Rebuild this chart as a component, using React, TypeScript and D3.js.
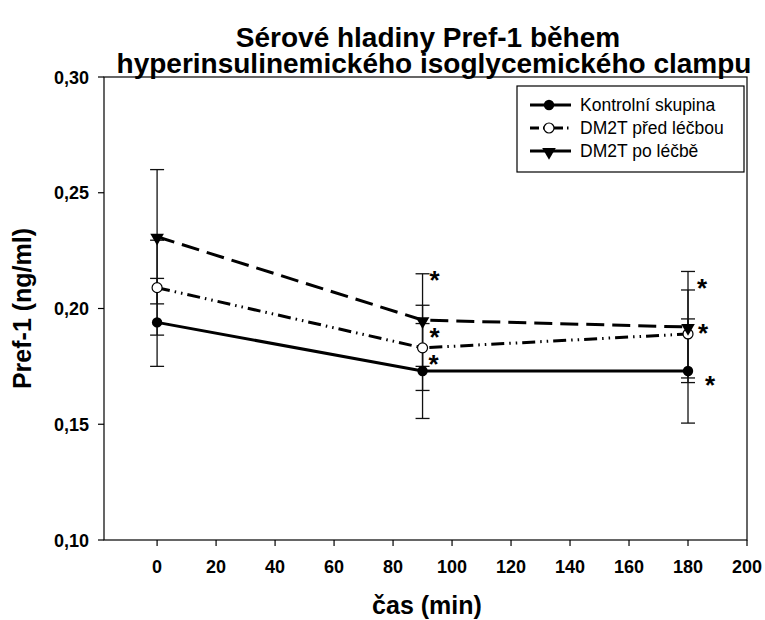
import React from 'react';
import * as d3 from 'd3';

const times = [0, 90, 180];
const kontrolni = [0.194, 0.173, 0.173];
const kontrolniErr = [0.019, 0.0205, 0.0225];
const pred = [0.209, 0.183, 0.189];
const predErr = [0.0205, 0.0184, 0.019];
const po = [0.231, 0.195, 0.192];
const poErr = [0.029, 0.02, 0.024];
const xTicks = [0, 20, 40, 60, 80, 100, 120, 140, 160, 180, 200];
const yTicks = [0.1, 0.15, 0.2, 0.25, 0.3];
// hvezdicky: [cas, hodnota kde stoji, posun v ose x]
const stars = [
  [90, 0.2155, 12], [90, 0.1905, 12], [90, 0.179, 11],
  [180, 0.212, 14], [180, 0.1925, 15], [180, 0.17, 22],
];

const W = 765, H = 620;
const left = 104, right = 747, top = 77, bottom = 540;

export default function App() {
  const x = d3.scaleLinear().domain([-18, 200]).range([left, right]);
  const y = d3.scaleLinear().domain([0.1, 0.3]).range([bottom, top]);
  const fmt = (v: number) => d3.format('.2f')(v).replace('.', ',');

  const series = [
    { name: 'Kontrolní skupina', vals: kontrolni, err: kontrolniErr, dash: null, marker: 'fill' },
    { name: 'DM2T před léčbou', vals: pred, err: predErr, dash: '13,5,1.5,5,1.5,5', marker: 'open' },
    { name: 'DM2T po léčbě', vals: po, err: poErr, dash: '18,8', marker: 'tri' },
  ];

  const line = d3.line<number>().x((_, i) => x(times[i])).y(d => y(d));
  const tri = d3.symbol().type(d3.symbolTriangle).size(80)();

  const marker = (kind: string, cx: number, cy: number, key: string) => {
    if (kind === 'fill') return <circle key={key} cx={cx} cy={cy} r={5.2} fill="#000" />;
    if (kind === 'open') return <circle key={key} cx={cx} cy={cy} r={5} fill="#fff" stroke="#000" strokeWidth={1.2} />;
    return <path key={key} d={tri as string} transform={`translate(${cx},${cy + 1}) rotate(180)`} fill="#000" />;
  };

  return (
    <svg width={W} height={H} style={{ fontFamily: 'Arial, "Liberation Sans", sans-serif', display: 'block', position: 'absolute', left: 0, top: 0 }}>
      <rect width={W} height={H} fill="#fff" />
      <text x={428} y={47} textAnchor="middle" fontSize={28} fontWeight="bold">Sérové hladiny Pref-1 během</text>
      <text x={434} y={73} textAnchor="middle" fontSize={28} fontWeight="bold">hyperinsulinemického isoglycemického clampu</text>

      <rect x={left} y={top} width={right - left} height={bottom - top} fill="none" stroke="#000" strokeWidth={1.2} />

      {yTicks.map(t => (
        <g key={t}>
          <line x1={left - 6} x2={left} y1={y(t)} y2={y(t)} stroke="#000" strokeWidth={1.2} />
          <text x={89} y={y(t) + 6.5} textAnchor="end" fontSize={18} fontWeight="bold">{fmt(t)}</text>
        </g>
      ))}
      {xTicks.map(t => (
        <g key={t}>
          <line x1={x(t)} x2={x(t)} y1={bottom} y2={bottom + 6} stroke="#000" strokeWidth={1.2} />
          <text x={x(t)} y={573} textAnchor="middle" fontSize={18} fontWeight="bold">{t}</text>
        </g>
      ))}

      <text x={427} y={614} textAnchor="middle" fontSize={25} fontWeight="bold">čas (min)</text>
      <text transform={`translate(31,${(top + bottom) / 2}) rotate(-90)`} textAnchor="middle" fontSize={25} fontWeight="bold">Pref-1 (ng/ml)</text>

      {series.map(s => (
        <g key={s.name}>
          {s.vals.map((v, i) => (
            <g key={i} stroke="#111" strokeWidth={1.3}>
              <line x1={x(times[i])} x2={x(times[i])} y1={y(v - s.err[i])} y2={y(v + s.err[i])} />
              <line x1={x(times[i]) - 7} x2={x(times[i]) + 7} y1={y(v - s.err[i])} y2={y(v - s.err[i])} />
              <line x1={x(times[i]) - 7} x2={x(times[i]) + 7} y1={y(v + s.err[i])} y2={y(v + s.err[i])} />
            </g>
          ))}
        </g>
      ))}
      {series.map(s => (
        <g key={s.name}>
          <path d={line(s.vals) as string} fill="none" stroke="#000" strokeWidth={3} strokeDasharray={s.dash ?? undefined} />
          {s.vals.map((v, i) => marker(s.marker, x(times[i]), y(v), s.name + i))}
        </g>
      ))}

      {stars.map(([t, v, dx], i) => (
        <text key={i} x={x(t) + dx} y={y(v) + 16} textAnchor="middle" fontSize={26} fontWeight="bold">*</text>
      ))}

      <rect x={517} y={86} width={227} height={86} fill="#fff" stroke="#000" strokeWidth={1.2} />
      {series.map((s, i) => {
        const ly = 105 + i * 23;
        return (
          <g key={s.name}>
            <line x1={530} x2={571} y1={ly} y2={ly} stroke="#000" strokeWidth={3} strokeDasharray={s.marker === 'open' ? '9,4,1.5,4,1.5,4' : undefined} />
            {marker(s.marker, 549, ly, 'l' + i)}
            <text x={580} y={ly + 6} fontSize={17.5}>{s.name}</text>
          </g>
        );
      })}
    </svg>
  );
}
